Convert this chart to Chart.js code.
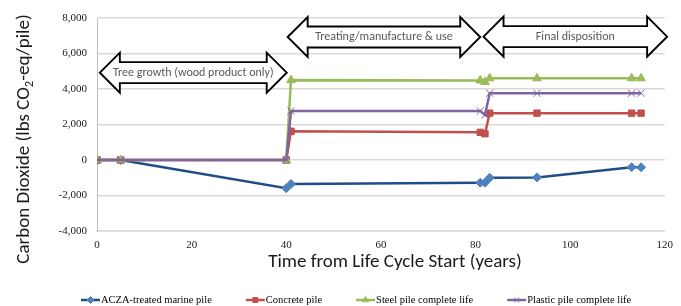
<!DOCTYPE html>
<html>
<head>
<meta charset="utf-8">
<script src="https://cdn.jsdelivr.net/npm/chart.js@4/dist/chart.umd.min.js"></script>
<style>
html,body{margin:0;padding:0;background:#fff;}
#wrap{width:681px;height:306px;position:relative;}
</style>
</head>
<body>
<div id="wrap"><canvas id="c" width="681" height="306"></canvas></div>
<script>
// ---- data ----
const years    = [0, 5, 40, 41, 81, 82, 83, 93, 113, 115];
const acza     = [0, 0, -1590, -1350, -1280, -1280, -1000, -980, -410, -410];
const concrete = [0, 0, 0, 1620, 1560, 1480, 2640, 2640, 2640, 2640];
const steel    = [0, 0, 0, 4500, 4480, 4400, 4600, 4600, 4600, 4600];
const plastic  = [0, 0, 0, 2760, 2760, 2540, 3760, 3760, 3760, 3760];
const seriesNames = ['ACZA-treated marine pile', 'Concrete pile', 'Steel pile complete life', 'Plastic pile complete life'];
const yTicks = [-4000, -2000, 0, 2000, 4000, 6000, 8000];
const xTicks = [0, 20, 40, 60, 80, 100, 120];
const yTitle = ['Carbon Dioxide (lbs CO', '2', '-eq/pile)'];
const xTitle = 'Time from Life Cycle Start (years)';
// phase annotations: [start year, end year, center value, label]
const phaseStart = [0.6, 40.3, 81.7];
const phaseEnd   = [40.1, 81.0, 120.5];
const phaseY     = [4920, 6930, 6950];
const phaseText  = ['Tree growth (wood product only)', 'Treating/manufacture & use', 'Final disposition'];

const toPts = arr => years.map((x, i) => ({x: x, y: arr[i]}));

const styles = [
  {line: '#1f4d87', fill: '#4f81bd', point: 'rectRot', r: 4.5},
  {line: '#c0504d', fill: '#c0504d', point: 'rect', r: 4.5},
  {line: '#9bbb59', fill: '#9bbb59', point: 'triangle', r: 5},
  {line: '#8064a2', fill: '#8064a2', point: 'crossRot', r: 5}
];
const allSeries = [acza, concrete, steel, plastic];

const datasets = allSeries.map((arr, i) => ({
  label: seriesNames[i],
  data: toPts(arr),
  showLine: true,
  borderColor: styles[i].line,
  backgroundColor: styles[i].fill,
  borderWidth: 2.5,
  pointStyle: styles[i].point,
  pointRadius: styles[i].r,
  pointBorderColor: styles[i].fill,
  pointBackgroundColor: styles[i].fill,
  pointBorderWidth: 1,
  tension: 0,
  order: 4 - i
}));

const SANS = 'Carlito, Lato, "Open Sans", sans-serif';
const SERIF = '"Liberation Serif", "Times New Roman", serif';

function drawDoubleArrow(ctx, xl, xr, yc, head, hh, sh) {
  ctx.beginPath();
  ctx.moveTo(xl, yc);
  ctx.lineTo(xl + head, yc - hh);
  ctx.lineTo(xl + head, yc - sh);
  ctx.lineTo(xr - head, yc - sh);
  ctx.lineTo(xr - head, yc - hh);
  ctx.lineTo(xr, yc);
  ctx.lineTo(xr - head, yc + hh);
  ctx.lineTo(xr - head, yc + sh);
  ctx.lineTo(xl + head, yc + sh);
  ctx.lineTo(xl + head, yc + hh);
  ctx.closePath();
  ctx.fillStyle = '#ffffff';
  ctx.fill();
  ctx.lineWidth = 1.9;
  ctx.strokeStyle = '#000000';
  ctx.lineJoin = 'miter';
  ctx.stroke();
}

const decor = {
  id: 'decor',
  afterDraw(chart) {
    const ctx = chart.ctx;
    const xs = chart.scales.x, ys = chart.scales.y;
    ctx.save();
    // phase arrows
    for (let i = 0; i < phaseText.length; i++) {
      const xl = xs.getPixelForValue(phaseStart[i]);
      const xr = xs.getPixelForValue(phaseEnd[i]);
      const yc = ys.getPixelForValue(phaseY[i]);
      drawDoubleArrow(ctx, xl, xr, yc, 20, 20, 10.5);
      ctx.fillStyle = '#595959';
      ctx.font = '12px ' + SANS;
      ctx.textAlign = 'center';
      ctx.textBaseline = 'middle';
      ctx.fillText(phaseText[i], (xl + xr) / 2, yc);
    }
    // x title
    ctx.fillStyle = '#1a1a1a';
    ctx.font = '19px ' + SANS;
    ctx.textAlign = 'center';
    ctx.textBaseline = 'middle';
    ctx.fillText(xTitle, 395, 262);
    // y title rotated with subscript
    ctx.save();
    ctx.translate(24, 139);
    ctx.rotate(-Math.PI / 2);
    const big = '19px ' + SANS, small = '12.5px ' + SANS;
    ctx.font = big; const w0 = ctx.measureText(yTitle[0]).width;
    ctx.font = small; const w1 = ctx.measureText(yTitle[1]).width;
    ctx.font = big; const w2 = ctx.measureText(yTitle[2]).width;
    let x0 = -(w0 + w1 + w2) / 2;
    ctx.textAlign = 'left';
    ctx.textBaseline = 'middle';
    ctx.font = big; ctx.fillText(yTitle[0], x0, 0);
    ctx.font = small; ctx.fillText(yTitle[1], x0 + w0, 6);
    ctx.font = big; ctx.fillText(yTitle[2], x0 + w0 + w1, 0);
    ctx.restore();
    // legend
    ctx.font = '10.5px ' + SERIF;
    ctx.textBaseline = 'middle';
    ctx.textAlign = 'left';
    let lx = 81;
    const ly = 300;
    chart.data.datasets.forEach((ds, i) => {
      ctx.strokeStyle = ds.borderColor;
      ctx.lineWidth = 2.5;
      ctx.beginPath();
      ctx.moveTo(lx, ly); ctx.lineTo(lx + 19, ly);
      ctx.stroke();
      ctx.fillStyle = ds.pointBackgroundColor;
      ctx.strokeStyle = ds.pointBorderColor;
      ctx.lineWidth = 1;
      Chart.helpers.drawPoint(ctx, {
        pointStyle: ds.pointStyle, radius: 3.5, rotation: 0, borderWidth: 1
      }, lx + 9.5, ly);
      ctx.fillStyle = '#000';
      ctx.fillText(ds.label, lx + 20, ly);
      lx += 20 + ctx.measureText(ds.label).width + 34;
    });
    ctx.restore();
  }
};

new Chart(document.getElementById('c'), {
  type: 'scatter',
  data: {datasets},
  options: {
    responsive: false,
    animation: false,
    layout: {padding: {left: 0, top: 18, right: 9, bottom: 0}},
    plugins: {legend: {display: false}, tooltip: {enabled: false}},
    scales: {
      x: {
        type: 'linear', min: 0, max: 120,
        afterBuildTicks: s => { s.ticks = xTicks.map(v => ({value: v})); },
        afterFit: s => { s.height = 75; },
        grid: {display: false, drawTicks: false},
        border: {display: true, color: '#d9d9d9', width: 1.5},
        ticks: {padding: 8, font: {family: SERIF, size: 11}, color: '#1a1a1a', maxRotation: 0, autoSkip: false}
      },
      y: {
        type: 'linear', min: -4000, max: 8000,
        afterBuildTicks: s => { s.ticks = yTicks.map(v => ({value: v})); },
        afterFit: s => { s.width = 97; },
        grid: {color: '#d9d9d9', lineWidth: 1.5, drawTicks: false},
        border: {display: true, color: '#bfbfbf', width: 1},
        ticks: {padding: 10, font: {family: SERIF, size: 11}, color: '#1a1a1a',
          callback: v => v.toLocaleString('en-US')}
      }
    }
  },
  plugins: [decor]
});
</script>
</body>
</html>
